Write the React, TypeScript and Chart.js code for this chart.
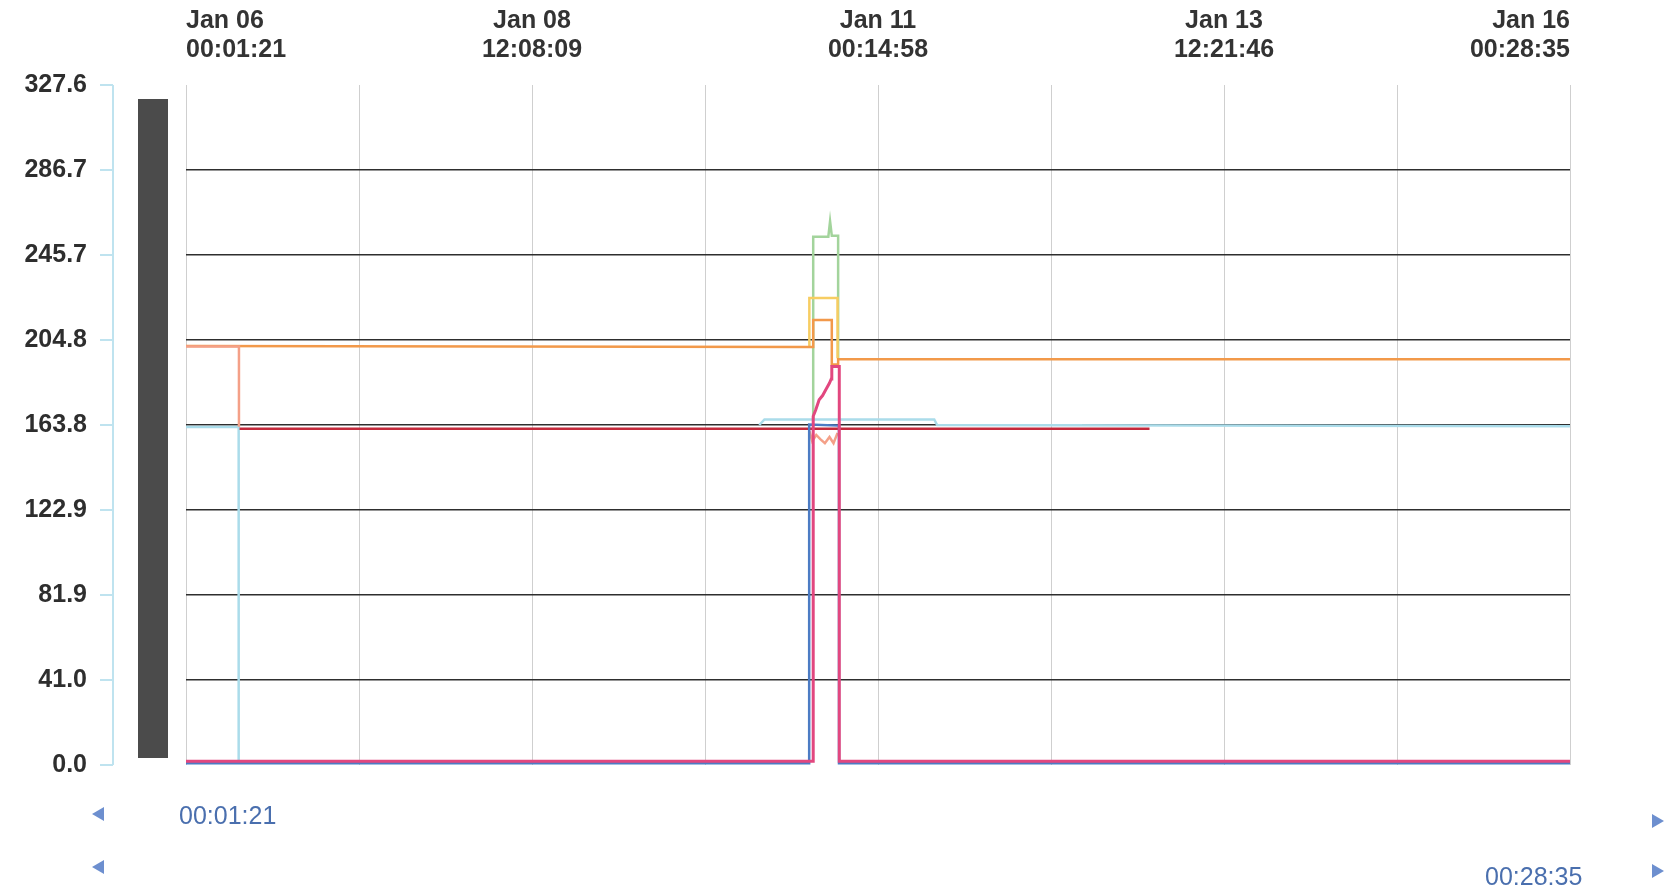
import React, { useEffect, useRef } from 'react';
import { Chart, registerables } from 'chart.js';

Chart.register(...registerables);

// x values are hours since Jan 06 00:01:21
const xMaxHours = 240.454;
const xTickLabels: (string | string[])[] = [
  ['Jan 06', '00:01:21'], '', ['Jan 08', '12:08:09'], '', ['Jan 11', '00:14:58'], '',
  ['Jan 13', '12:21:46'], '', ['Jan 16', '00:28:35'],
];
const yTickValues = [0, 40.95, 81.9, 122.85, 163.8, 204.75, 245.7, 286.65, 327.6];
const yTickLabels = ['0.0', '41.0', '81.9', '122.9', '163.8', '204.8', '245.7', '286.7', '327.6'];

const navStartLabel = '00:01:21';
const navEndLabel = '00:28:35';

// series (x in hours, y in units); null = gap
const pinkX = [0, 108.97, 108.97, 109.4, 110.0, 110.6, 111.2, 111.8, 112.1, 112.2, 113.5, 113.5, 240.45];
const pinkY = [1.8, 1.8, 168, 171, 176, 178, 181, 184, 186, 192, 192, 1.8, 1.8];

const blueX = [0, 108.27, 108.27, 113.45, 113.45, 240.45];
const blueY = [0.8, 0.8, 164, 163.5, 0.8, 0.8];

const redX = [9.3, 167.4];
const redY = [162, 162];

const salmonX = [0, 9.2, 9.2, 9.2, 108.3, 108.8, 109.5, 110.2, 111.0, 111.8, 112.5, 113.2];
const salmonY: (number | null)[] = [201.6, 201.6, 163, null, 161, 156, 159, 157, 155, 158, 155, 160];

const orangeX = [0, 108.3, 108.97, 108.97, 112.2, 112.2, 113.3, 113.3, 240.45];
const orangeY = [201.8, 201.4, 201.4, 214.4, 214.4, 193, 193, 195.5, 195.5];

const yellowX = [108.3, 108.3, 113.2, 113.2];
const yellowY = [201.4, 225, 225, 196];

const greenX = [108.97, 108.97, 111.6, 111.9, 112.2, 113.3, 113.3];
const greenY = [166, 254.5, 254.5, 262, 255, 255, 196];

const cyanX = [0, 9.15, 9.15, 9.15, 99.6, 100.5, 130.0, 130.5, 240.45];
const cyanY: (number | null)[] = [162.8, 162.8, 0.8, null, 163.8, 166.5, 166.5, 163.8, 163.2];

function pts(xs: number[], ys: (number | null)[]) {
  return xs.map((x, i) => ({ x, y: ys[i] }));
}

const decorPlugin = {
  id: 'decor',
  afterDraw(chart: any) {
    const { ctx, chartArea } = chart;
    const y = chart.scales.y;
    ctx.save();
    // scroll bar
    ctx.fillStyle = '#4b4b4b';
    ctx.fillRect(chartArea.left - 48, chartArea.top + 14, 30, chartArea.bottom - chartArea.top - 21);
    // axis bracket
    ctx.strokeStyle = '#bfe3ef';
    ctx.lineWidth = 2;
    const bx = chartArea.left - 73;
    ctx.beginPath();
    ctx.moveTo(bx, y.getPixelForValue(yTickValues[yTickValues.length - 1]));
    ctx.lineTo(bx, y.getPixelForValue(yTickValues[0]));
    ctx.stroke();
    yTickValues.forEach((v) => {
      const py = y.getPixelForValue(v);
      ctx.beginPath();
      ctx.moveTo(bx - 13, py);
      ctx.lineTo(bx, py);
      ctx.stroke();
    });
    ctx.restore();
  },
};

function Arrow({ left, top, dir }: { left: number; top: number; dir: 'l' | 'r' }) {
  const p = dir === 'l' ? '12,0 12,14 0,7' : '0,0 0,14 12,7';
  return (
    <svg width={12} height={14} style={{ position: 'absolute', left, top }}>
      <polygon points={p} fill="#6d8fcf" />
    </svg>
  );
}

export default function App() {
  const ref = useRef<HTMLCanvasElement | null>(null);

  useEffect(() => {
    if (!ref.current) return;
    const mk = (label: string, xs: number[], ys: (number | null)[], color: string, w = 2.5) => ({
      label,
      data: pts(xs, ys),
      borderColor: color,
      backgroundColor: color,
      borderWidth: w,
      pointRadius: 0,
      tension: 0,
      spanGaps: false,
      fill: false,
    });
    const chart = new Chart(ref.current, {
      type: 'line',
      data: {
        datasets: [
          mk('pink', pinkX, pinkY, '#e2477f', 3),
          mk('blue', blueX, blueY, '#4c7cc4'),
          mk('red', redX, redY, '#c42a3c'),
          mk('salmon', salmonX, salmonY, '#f4a088'),
          mk('orange', orangeX, orangeY, '#f2994a'),
          mk('yellow', yellowX, yellowY, '#f7cd62'),
          mk('green', greenX, greenY, '#a3d49c'),
          mk('cyan', cyanX, cyanY, '#aadcea'),
        ],
      },
      options: {
        animation: false,
        responsive: false,
        devicePixelRatio: 1,
        layout: { padding: { left: 0, top: 0, right: 96, bottom: 123 } },
        plugins: { legend: { display: false }, tooltip: { enabled: false } },
        scales: {
          x: {
            type: 'linear',
            position: 'top',
            min: 0,
            max: xMaxHours,
            afterBuildTicks: (s: any) => {
              s.ticks = xTickLabels.map((_, i) => ({ value: (i * xMaxHours) / (xTickLabels.length - 1) }));
            },
            afterFit: (s: any) => {
              s.height = 85;
            },
            ticks: {
              autoSkip: false,
              maxRotation: 0,
              minRotation: 0,
              align: 'inner',
              padding: 20,
              color: '#333333',
              font: { family: '"Liberation Sans", Arial, sans-serif', size: 25, weight: 'bold', lineHeight: 1.16 },
              callback: (_v: any, i: number) => xTickLabels[i],
            },
            grid: { color: '#cfcfcf', lineWidth: 1, drawTicks: false },
            border: { display: false },
          },
          y: {
            type: 'linear',
            min: 0,
            max: 327.6,
            afterBuildTicks: (s: any) => {
              s.ticks = yTickValues.map((v) => ({ value: v }));
            },
            afterFit: (s: any) => {
              s.width = 186;
              s.paddingTop = 15;
              s.paddingBottom = 15;
            },
            ticks: {
              padding: 99,
              color: '#2e2e2e',
              font: { family: '"Liberation Sans", Arial, sans-serif', size: 25, weight: 'bold' },
              callback: (_v: any, i: number) => yTickLabels[i],
            },
            grid: {
              drawTicks: false,
              lineWidth: 1.6,
              color: (c: any) => (c.index === 0 || c.index === yTickValues.length - 1 ? 'rgba(0,0,0,0)' : '#2e2e2e'),
            },
            border: { display: false },
          },
        },
      },
      plugins: [decorPlugin],
    } as any);
    return () => chart.destroy();
  }, []);

  const navFont: React.CSSProperties = {
    position: 'absolute',
    fontFamily: '"Liberation Sans", Arial, sans-serif',
    fontSize: 25,
    lineHeight: '25px',
    color: '#4a6fae',
    whiteSpace: 'nowrap',
  };

  return (
    <div style={{ position: 'absolute', left: 0, top: 0, width: 1666, height: 888, background: '#fff', overflow: 'hidden' }}>
      <canvas ref={ref} width={1666} height={888} style={{ position: 'absolute', left: 0, top: 0, width: 1666, height: 888 }} />
      <Arrow left={92} top={807} dir="l" />
      <div style={{ ...navFont, left: 179, top: 803 }}>{navStartLabel}</div>
      <Arrow left={1652} top={814} dir="r" />
      <Arrow left={92} top={860} dir="l" />
      <div style={{ ...navFont, left: 1485, top: 864 }}>{navEndLabel}</div>
      <Arrow left={1652} top={864} dir="r" />
    </div>
  );
}
